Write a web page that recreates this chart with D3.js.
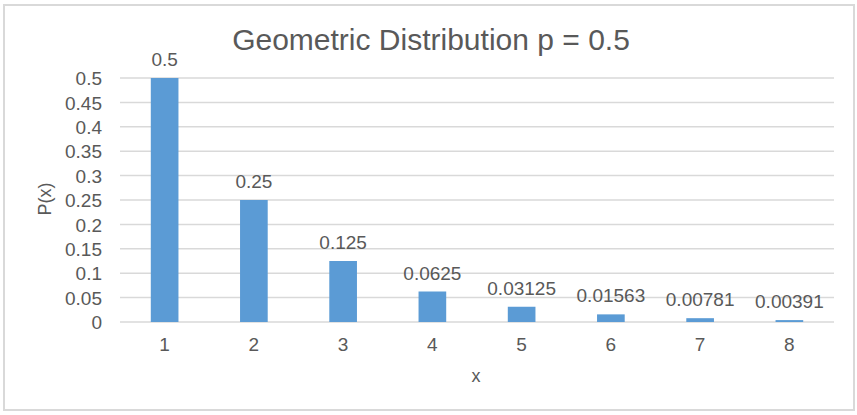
<!DOCTYPE html>
<html>
<head>
<meta charset="utf-8">
<script src="https://cdn.jsdelivr.net/npm/d3@7.9.0/dist/d3.min.js"></script>
<style>
  body { margin: 0; background: #fff; }
  svg text { font-family: "Liberation Sans", Arial, sans-serif; fill: #595959; }
</style>
</head>
<body>
<svg id="chart" width="857" height="415"></svg>
<script>
// data
const categories = ['1', '2', '3', '4', '5', '6', '7', '8'];
const probs = [0.5, 0.25, 0.125, 0.0625, 0.03125, 0.01563, 0.00781, 0.00391];
const yTicks = [0, 0.05, 0.1, 0.15, 0.2, 0.25, 0.3, 0.35, 0.4, 0.45, 0.5];

const svg = d3.select('#chart');
const plotLeft = 120, plotRight = 834, plotTop = 78, plotBottom = 322;

// chart border
svg.append('rect').attr('x', 4).attr('y', 5).attr('width', 850).attr('height', 405)
  .attr('fill', '#fff').attr('stroke', '#d9d9d9').attr('stroke-width', 2);

const x = d3.scaleBand().domain(categories).range([plotLeft, plotRight]).paddingInner(0.69).paddingOuter(0.345);
const y = d3.scaleLinear().domain([0, 0.5]).range([plotBottom, plotTop]);

// gridlines
svg.append('g').selectAll('line').data(yTicks).join('line')
  .attr('x1', plotLeft).attr('x2', plotRight)
  .attr('y1', d => y(d)).attr('y2', d => y(d))
  .attr('stroke', '#d9d9d9').attr('stroke-width', 1.5);

// y tick labels
const yAxis = d3.axisLeft(y).tickValues(yTicks).tickSize(0).tickPadding(0).tickFormat(d => d3.format('~g')(d));
const gy = svg.append('g').attr('transform', `translate(102,0)`).call(yAxis);
gy.select('.domain').remove();
gy.selectAll('text').attr('font-size', 19).attr('fill', '#595959').attr('dy', '0.35em')
  .attr('font-family', '"Liberation Sans", Arial, sans-serif');

// x tick labels
const xAxis = d3.axisBottom(x).tickSize(0).tickPadding(0);
const gx = svg.append('g').attr('transform', `translate(0,337)`).call(xAxis);
gx.select('.domain').remove();
gx.selectAll('text').attr('font-size', 19).attr('fill', '#595959').attr('dy', '0.71em')
  .attr('font-family', '"Liberation Sans", Arial, sans-serif');

// bars
svg.append('g').selectAll('rect').data(probs).join('rect')
  .attr('x', (d, i) => x(categories[i]))
  .attr('y', d => y(d))
  .attr('width', x.bandwidth())
  .attr('height', d => plotBottom - y(d))
  .attr('fill', '#5b9bd5');

// data labels
svg.append('g').selectAll('text').data(probs).join('text')
  .attr('x', (d, i) => x(categories[i]) + x.bandwidth() / 2)
  .attr('y', d => y(d) - 12)
  .attr('text-anchor', 'middle')
  .attr('font-size', 19)
  .text(d => d);

// title
svg.append('text').attr('x', 431).attr('y', 50).attr('text-anchor', 'middle')
  .attr('font-size', 30).text('Geometric Distribution p = 0.5');

// axis titles
svg.append('text').attr('x', 476).attr('y', 382).attr('text-anchor', 'middle')
  .attr('font-size', 18).text('x');
svg.append('text').attr('transform', 'translate(51,199) rotate(-90)').attr('text-anchor', 'middle')
  .attr('font-size', 18).text('P(x)');
</script>
</body>
</html>
